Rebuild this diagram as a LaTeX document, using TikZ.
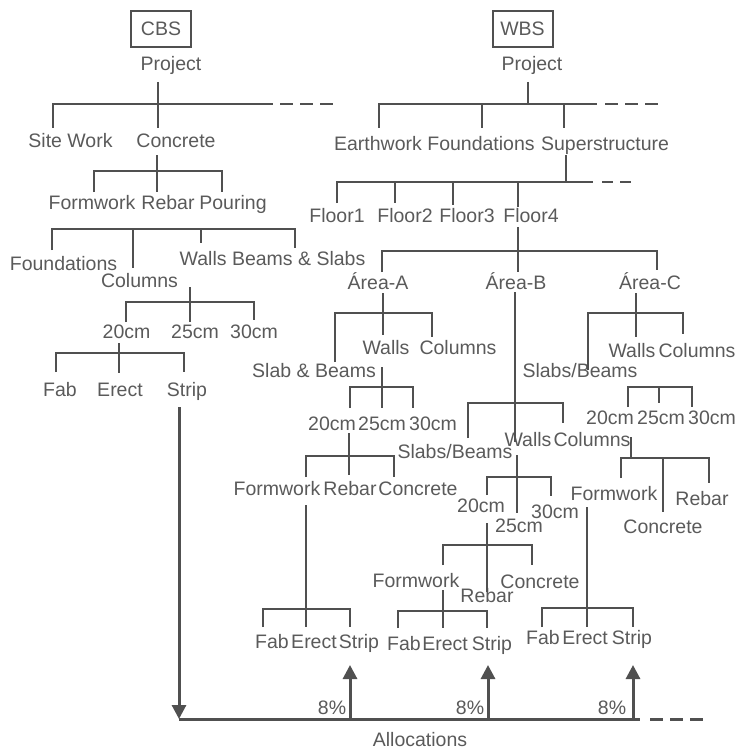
\documentclass[tikz,border=0pt]{standalone}
\usepackage{fontspec}
\setmainfont{Liberation Sans}
\usetikzlibrary{arrows.meta}
\definecolor{linegray}{HTML}{505050}
\definecolor{textgray}{HTML}{5A5A5A}
\tikzset{
  lbl/.style={font=\fontsize{19.5}{23}\selectfont, text=textgray, inner sep=0pt, anchor=base},
  tree/.style={draw=linegray, line width=2pt},
  ext/.style={draw=linegray, line width=2pt, dash pattern=on 13pt off 7pt},
  flow/.style={draw=linegray, line width=3pt},
  tip/.style={-{Triangle[width=14pt,length=14pt]}},
  title/.style={draw=linegray, line width=2pt, minimum width=60pt, minimum height=36pt,
    inner sep=0pt, font=\fontsize{19.5}{23}\selectfont, text=textgray}
}
% label macro: name, centre x, visual centre y, text
\newcommand{\lab}[4]{\node[lbl] (#1) at (#2,#3+7) {#4};}
\begin{document}
\begin{tikzpicture}[x=1pt,y=-1pt]
\useasboundingbox (0,0) rectangle (739,749);

% ---------------- CBS tree ----------------
\node[title] (cbs) at (161,29) {CBS};
\lab{cproj}{171}{64}{Project}
\lab{csite}{70.5}{140}{Site Work}
\lab{cconc}{176}{140}{Concrete}
\lab{cform}{92}{202}{Formwork}
\lab{crebar}{168}{202}{Rebar}
\lab{cpour}{233}{202}{Pouring}
\lab{cfound}{63.5}{263}{Foundations}
\lab{ccol}{139.5}{280}{Columns}
\lab{cwalls}{272.5}{258}{Walls Beams \& Slabs}
\lab{c20}{126.5}{331}{20cm}
\lab{c25}{195}{331}{25cm}
\lab{c30}{254}{331}{30cm}
\lab{cfab}{60}{389}{Fab}
\lab{cerect}{120}{389}{Erect}
\lab{cstrip}{187}{389}{Strip}

\path[tree] (158,82) -- (158,128)
  (53,128) -- (53,104) -- (273,104);
\path[ext] (280,104) -- (333,104);
\path[tree] (157,155) -- (157,192)
  (94,192) -- (94,171) -- (222,171) -- (222,192);
\path[tree] (52,250) -- (52,229) -- (295,229) -- (295,248)
  (133,229) -- (133,268) (201,229) -- (201,243);
\path[tree] (190,287) -- (190,322)
  (126,322) -- (126,302) -- (254,302) -- (254,320);
\path[tree] (119,343) -- (119,373)
  (56,372) -- (56,353) -- (184,353) -- (184,372);

% ---------------- WBS tree ----------------
\node[title] (wbs) at (522.5,29) {WBS};
\lab{wproj}{532}{64}{Project}
\lab{wearth}{378}{143}{Earthwork}
\lab{wfound}{481}{143}{Foundations}
\lab{wsuper}{605}{143}{Superstructure}
\lab{fl1}{337}{215}{Floor1}
\lab{fl2}{405}{215}{Floor2}
\lab{fl3}{467}{215}{Floor3}
\lab{fl4}{531}{215}{Floor4}
\lab{areaA}{378}{282}{Área-A}
\lab{areaB}{516}{282}{Área-B}
\lab{areaC}{650}{282}{Área-C}

\path[tree] (528,82) -- (528,104)
  (379,128) -- (379,104) -- (597,104)
  (482,104) -- (482,128) (564,104) -- (564,128);
\path[ext] (605,104) -- (658,104);
\path[tree] (566,155) -- (566,182)
  (337,203) -- (337,182) -- (593,182)
  (395,182) -- (395,203) (453,182) -- (453,205);
\path[ext, dash pattern=on 11pt off 7pt] (602,182) -- (632,182);
\path[tree] (518,207) -- (518,182);
\path[tree] (518,227) -- (518,272)
  (382,272) -- (382,251) -- (657,251) -- (657,270);

% Area A
\lab{aWalls}{386}{347}{Walls}
\lab{aCols}{458}{347}{Columns}
\lab{aSlab}{314}{370}{Slab \& Beams}
\lab{a20}{332}{423}{20cm}
\lab{a25}{382}{423}{25cm}
\lab{a30}{433}{423}{30cm}
\lab{aForm}{277}{488}{Formwork}
\lab{aRebar}{350}{488}{Rebar}
\lab{aConc}{418}{488}{Concrete}
\lab{aFab}{272}{641}{Fab}
\lab{aErect}{314}{641}{Erect}
\lab{aStrip}{359}{641}{Strip}

\path[tree] (383,293) -- (383,335)
  (335,362) -- (335,313) -- (432,313) -- (432,337);
\path[tree] (382,367) -- (382,408)
  (350,408) -- (350,387) -- (413,387) -- (413,408);
\path[tree] (349,433) -- (349,475)
  (306,477) -- (306,456) -- (394,456) -- (394,477);
\path[tree] (306,505) -- (306,627)
  (263,627) -- (263,609) -- (350,609) -- (350,627);

% Area B
\lab{bWalls}{528}{439}{Walls}
\lab{bCols}{592}{439}{Columns}
\lab{bSlab}{455}{451}{Slabs/Beams}
\lab{b20}{481}{505}{20cm}
\lab{b25}{519}{525}{25cm}
\lab{b30}{555}{511}{30cm}
\lab{bForm}{416}{580}{Formwork}
\lab{bRebar}{487}{595}{Rebar}
\lab{bConc}{540}{581}{Concrete}
\lab{bFab}{404}{643}{Fab}
\lab{bErect}{445}{643}{Erect}
\lab{bStrip}{492}{643}{Strip}

\path[tree] (515,292) -- (515,442)
  (468,438) -- (468,403) -- (563,403) -- (563,423);
\path[tree] (517,455) -- (517,513)
  (487,495) -- (487,477) -- (551,477) -- (551,496);
\path[tree] (487,523) -- (487,592)
  (443,565) -- (443,545) -- (532,545) -- (532,565);
\path[tree] (443,590) -- (443,628)
  (398,628) -- (398,611) -- (487,611) -- (487,628);

% Area C
\lab{cWalls}{632}{350}{Walls}
\lab{cCols}{697}{350}{Columns}
\lab{cSlab}{580}{370}{Slabs/Beams}
\lab{c20b}{610}{417}{20cm}
\lab{c25b}{661}{417}{25cm}
\lab{c30b}{712}{417}{30cm}
\lab{cForm}{614}{493}{Formwork}
\lab{cRebar}{702}{498}{Rebar}
\lab{cConcB}{663}{526}{Concrete}
\lab{cFab}{543}{637}{Fab}
\lab{cErect}{585}{637}{Erect}
\lab{cStrip}{632}{637}{Strip}

\path[tree] (636,293) -- (636,337)
  (588,370) -- (588,313) -- (683,313) -- (683,334);
\path[tree] (628,407) -- (628,387) -- (692,387) -- (692,407)
  (659,387) -- (659,403);
\path[tree] (631,437) -- (631,458)
  (621,478) -- (621,458) -- (709,458) -- (709,483)
  (663,458) -- (663,512);
\path[tree] (587,507) -- (587,627)
  (542,627) -- (542,608) -- (633,608) -- (633,627);

% ---------------- Allocations ----------------
\coordinate (down-start) at (179,407);
\coordinate (alloc-left) at (179,719);
\coordinate (alloc-right) at (640,719);
\coordinate (up1) at (350,719);
\coordinate (up2) at (488,719);
\coordinate (up3) at (633,719);
\path[flow, tip] (down-start) -- (alloc-left);
\path[flow] (alloc-left) -- (alloc-right);
\path[flow, dash pattern=on 13pt off 7pt] (650,719) -- (703,719);
\path[flow, tip] (up1) -- (350,665);
\path[flow, tip] (up2) -- (488,665);
\path[flow, tip] (up3) -- (633,665);

\lab{p1}{332}{707}{8\%}
\lab{p2}{470}{707}{8\%}
\lab{p3}{612}{707}{8\%}
\lab{alloc}{420}{739}{Allocations}
\end{tikzpicture}
\end{document}
